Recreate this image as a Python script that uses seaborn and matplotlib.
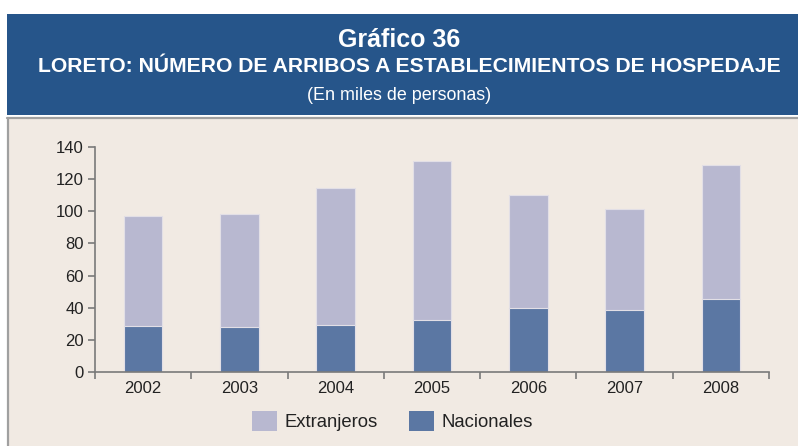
import matplotlib
matplotlib.use("Agg")
import matplotlib.pyplot as plt
from matplotlib.patches import Rectangle, Patch
import seaborn as sns
import pandas as pd
import numpy as np

# Arrivals to lodging establishments in Loreto (thousands of people)
years = ["2002", "2003", "2004", "2005", "2006", "2007", "2008"]
nacionales = [28.3, 27.9, 28.9, 32.3, 39.7, 38.3, 45.5]
extranjeros = [68.8, 70.3, 85.9, 98.9, 70.3, 63.0, 83.6]
y_ticks = [0, 20, 40, 60, 80, 100, 120, 140]

title_main = "Gráfico 36"
title_sub = "LORETO: NÚMERO DE ARRIBOS A ESTABLECIMIENTOS DE HOSPEDAJE"
title_unit = "(En miles de personas)"

c_ext = "#b8b8d0"
c_nac = "#5b77a3"
c_panel = "#f1eae3"
c_header = "#26558a"

sns.set_theme(style="white")
plt.rcParams["font.family"] = ["Liberation Sans", "DejaVu Sans"]

df = pd.DataFrame({
    "year": years,
    "Nacionales": nacionales,
    "Extranjeros": extranjeros,
})
df["total"] = df["Nacionales"] + df["Extranjeros"]

fig = plt.figure(figsize=(7.98, 4.46), dpi=100)
fig.patch.set_facecolor("white")

W, H = 798, 446

def fx(px):
    return px / W

def fy(py):
    return 1 - py / H

# header band
fig.patches.append(Rectangle((fx(7), fy(115)), fx(791), (115 - 14) / H,
                             transform=fig.transFigure, facecolor=c_header,
                             edgecolor="none", zorder=-5))
# chart panel
fig.patches.append(Rectangle((fx(7), fy(446)), fx(791), (446 - 118) / H,
                             transform=fig.transFigure, facecolor=c_panel,
                             edgecolor="none", zorder=-5))
fig.lines.append(plt.Line2D([fx(7), fx(798)], [fy(118.5), fy(118.5)],
                            transform=fig.transFigure, color="#a0a0a0", lw=1.6,
                            zorder=-4))
fig.lines.append(plt.Line2D([fx(7.5), fx(7.5)], [fy(118.5), fy(446)],
                            transform=fig.transFigure, color="#a0a0a0", lw=1.6,
                            zorder=-4))

fig.text(0.5, fy(40), title_main, ha="center", va="center", color="white",
         fontsize=18, fontweight="bold")
fig.text(fx(409), fy(67), title_sub, ha="center", va="center", color="white",
         fontsize=15.2, fontweight="bold")
fig.text(0.5, fy(96), title_unit, ha="center", va="center", color="white",
         fontsize=12.9)

ax = fig.add_axes([fx(95), fy(371.7), fx(769 - 95), (371.7 - 147.3) / H])
ax.set_zorder(2)
ax.set_facecolor(c_panel)

sns.barplot(data=df, x="year", y="total", color=c_ext, width=0.4,
            edgecolor="#e2dfe6", linewidth=0.8, saturation=1, ax=ax)
sns.barplot(data=df, x="year", y="Nacionales", color=c_nac, width=0.4,
            edgecolor="#e2dfe6", linewidth=0.8, saturation=1, ax=ax)

ax.set_xlim(-0.5, len(years) - 0.5)
ax.set_ylim(0, 140)
ax.set_yticks(y_ticks)
ax.set_xlabel("")
ax.set_ylabel("")

for s in ["top", "right"]:
    ax.spines[s].set_visible(False)
for s in ["left", "bottom"]:
    ax.spines[s].set_color("#7a7a7a")
    ax.spines[s].set_linewidth(1.2)

ax.tick_params(axis="y", which="major", direction="out", length=5, width=1.2,
               color="#7a7a7a", labelsize=12, labelcolor="#222222", pad=3, left=True)
ax.tick_params(axis="x", which="major", length=0, labelsize=12,
               labelcolor="#222222", pad=7)
ax.set_xticks(np.arange(-0.5, len(years), 1.0), minor=True)
ax.tick_params(axis="x", which="minor", direction="out", length=5, width=1.2,
               color="#7a7a7a", bottom=True)

handles = [Patch(facecolor=c_ext, edgecolor="none", label="Extranjeros"),
           Patch(facecolor=c_nac, edgecolor="none", label="Nacionales")]
fig.legend(handles=handles, loc="center", bbox_to_anchor=(fx(392.5), fy(421)),
           ncol=2, frameon=False, fontsize=13.3, handlelength=1.35,
           handleheight=1.35, handletextpad=0.43, columnspacing=1.68,
           labelcolor="#222222")

fig.savefig("out.png", dpi=100, facecolor=fig.get_facecolor())
